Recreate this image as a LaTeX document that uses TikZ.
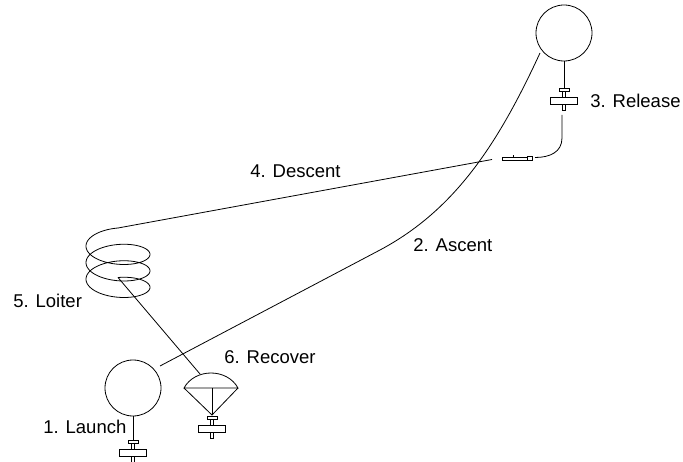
\documentclass[tikz,border=0pt]{standalone}
\usepackage{fontspec}
\setmainfont{Liberation Sans}
\begin{document}
\begin{tikzpicture}[x=1pt, y=-1pt, line width=0.8pt,
  every node/.style={font=\fontsize{18.5}{22}\selectfont, inner sep=0pt},
  balloon/.style={draw, circle, minimum size=56pt},
  label/.style={anchor=base west},
  payload/.pic={
    \draw[fill=white] (-1.5,0) rectangle (1.5,22);
    \draw[fill=white] (-5,0) rectangle (5,3.5);
    \draw[fill=white] (-13.5,9.5) rectangle (13.5,16);
  }]
\useasboundingbox (0,0) rectangle (683,462);

% balloons and their payloads
\node[balloon] (topballoon) at (564,33) {};
\node[balloon] (launchballoon) at (133,388) {};
\coordinate (toppay) at (564,88);
\coordinate (launchpay) at (133,440);
\draw (topballoon.south) -- (toppay);
\draw (launchballoon.south) -- (launchpay);
\pic at (toppay) {payload};
\pic at (launchpay) {payload};

% ascent
\coordinate (ascentstart) at (160,366);
\coordinate (ascentmid) at (380,250);
\coordinate (ascentend) at (540,53);
\draw (ascentstart) -- (ascentmid) .. controls (455,210) and (498,144) .. (ascentend);

% release and glider
\coordinate (releasetop) at (562,115);
\coordinate (glidernose) at (535,157.5);
\draw (releasetop) -- (562,138) .. controls (562,152) and (550,157.5) .. (glidernose);
\draw (502,157.5) rectangle (527,160.5);
\draw (527,156) rectangle (532,160);
\draw (513,155.5) -- (513,157.5);

% descent into the loiter spiral
\coordinate (glidertail) at (492,159.5);
\coordinate (loiterstart) at (118,228);
\coordinate (loiterend) at (118,277.5);
\draw (glidertail) -- (loiterstart);
\draw plot[domain=90:1170, samples=240, variable=\t]
  ({118+32*cos(\t)}, {242+(\t-90)/360*16.5-14*sin(\t)});

% recovery parachute
\coordinate (canopytop) at (200,374);
\coordinate (apex) at (212,415);
\draw (184,388) .. controls (195,368) and (227,368) .. (238,388) -- cycle;
\draw (184,388) -- (apex) -- (238,388);
\draw (212,388) -- (apex);
\draw (loiterend) -- (canopytop);
\pic at (212,416) {payload};

% labels
\node[label] (launch) at (43,433) {1. Launch};
\node[label] (ascent) at (413,252) {2. Ascent};
\node[label] (release) at (590,108) {3. Release};
\node[label] (descent) at (250,177.5) {4. Descent};
\node[label] (loiter) at (13,308) {5. Loiter};
\node[label] (recover) at (224,363) {6. Recover};
\end{tikzpicture}
\end{document}
